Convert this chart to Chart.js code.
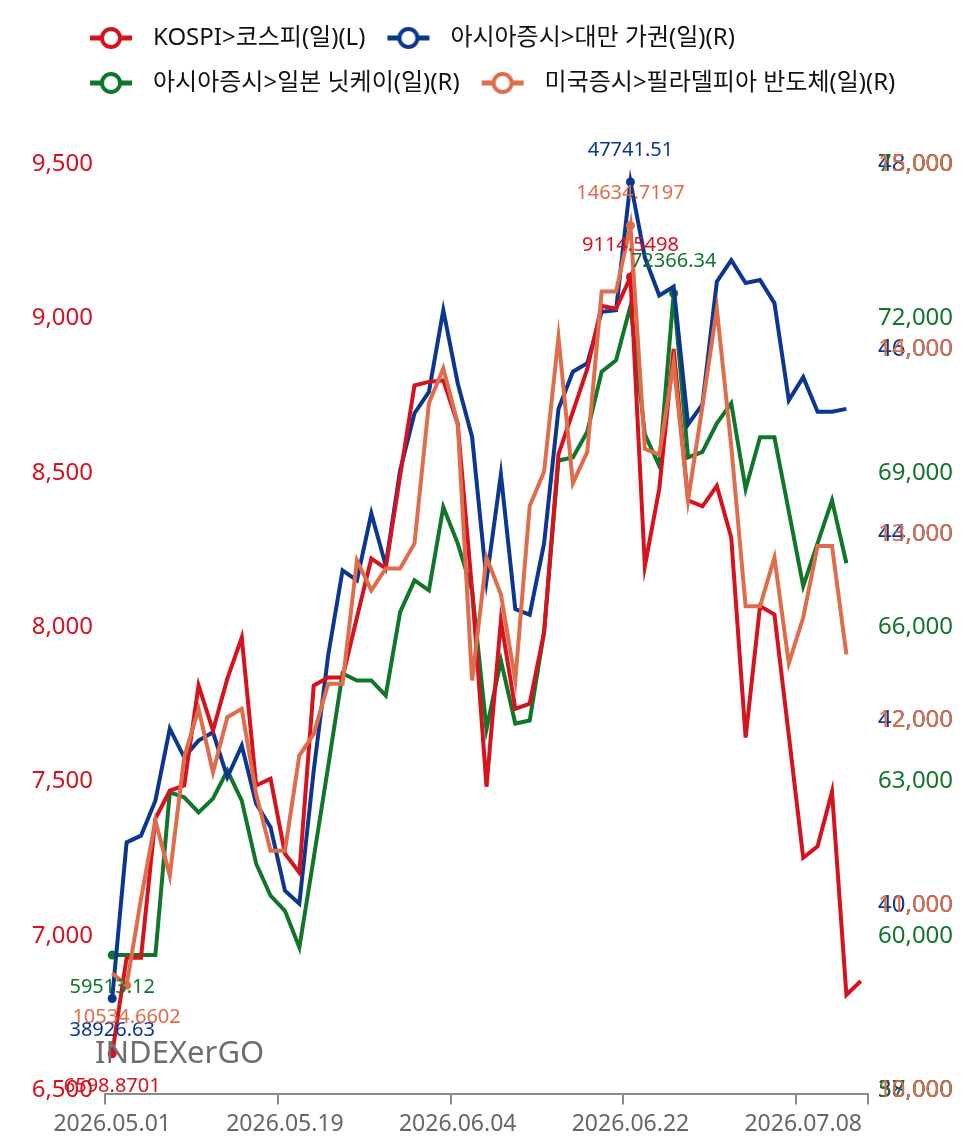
<!DOCTYPE html>
<html>
<head>
<meta charset="utf-8">
<script src="https://cdn.jsdelivr.net/npm/chart.js@4.4.1/dist/chart.umd.min.js"></script>
<style>
  html, body { margin: 0; padding: 0; background: #fff; }
</style>
</head>
<body>
<canvas id="chart" width="977" height="1141"></canvas>
<script>
const dateLabels = [
  "2026.05.01","2026.05.04","2026.05.05","2026.05.06","2026.05.07","2026.05.08",
  "2026.05.11","2026.05.12","2026.05.13","2026.05.14","2026.05.15",
  "2026.05.18","2026.05.19","2026.05.20","2026.05.21","2026.05.22",
  "2026.05.25","2026.05.26","2026.05.27","2026.05.28","2026.05.29",
  "2026.06.01","2026.06.02","2026.06.03","2026.06.04","2026.06.05",
  "2026.06.08","2026.06.09","2026.06.10","2026.06.11","2026.06.12",
  "2026.06.15","2026.06.16","2026.06.17","2026.06.18","2026.06.19",
  "2026.06.22","2026.06.23","2026.06.24","2026.06.25","2026.06.26",
  "2026.06.29","2026.06.30","2026.07.01","2026.07.02","2026.07.03",
  "2026.07.06","2026.07.07","2026.07.08","2026.07.09","2026.07.10",
  "2026.07.13","2026.07.14"
];

const kospi = [6598.8701,6910,6910,7361,7451,7468,7792,7646,7814,7947,7468,7490,7247,7186,7792,7818,7818,8012,8203,8171,
  8471,8764,8775,8780,8640,8100,7464,8002,7716,7733,7964,8540,8678,8817,9021,9012,9114.5498,8178,8428,8882,
  8391,8372,8438,8271,7623,8049,8022,7630,7234,7271,7448,6790,6835];

const taiwan = [38926.63,40613,40685,41063,41841,41531,41711,41801,41315,41657,41031,40775,40091,39950,41390,42630,43548,43440,44164,43602,
  44629,45245,45475,46358,45569,44989,43440,44586,43131,43070,43839,45291,45693,45784,46340,46358,47741.51,46927,46516,46611,
  45124,45341,46665,46898,46650,46683,46434,45385,45634,45261,45261,45292,null];

const nikkei = [59513.12,59513.12,59513.12,59513.12,62675,62578,62286,62553,63097,62514,61288,60666,60374,59661,61404,63175,64984,64848,64848,64556,
  66176,66793,66598,68218,67512,66598,63904,65236,64011,64070,65793,69124,69182,69680,70847,71070,72125,69632,69016,72366.34,
  69182,69290,69846,70235,68570,69574,69574,68135,66682,67515,68348,67127,null];

const sox = [10600,10534.6602,11000,11424,11126,11765,12027,11685,11982,12027,11568,11261,11261,11775,11892,12162,12162,12828,12666,12785,
  12785,12920,13676,13865,13568,12180,12844,12645,12180,13122,13306,14033,13245,13414,14279,14279,14634.7197,13430,13399,13893,
  13152,13661,14186,13446,12581,12581,12844,12273,12520,12906,12906,12320,null];

const seriesNames = ["KOSPI>코스피(일)(L)", "아시아증시>대만 가권(일)(R)", "아시아증시>일본 닛케이(일)(R)", "미국증시>필라델피아 반도체(일)(R)"];
const seriesColors = ["#d5121e", "#0c3791", "#11762a", "#df6d4b"];
const tickEvery = 12;

Chart.defaults.font.family = '"Noto Sans", "Noto Sans CJK KR", sans-serif';

function extremeIdx(arr) {
  let lo = -1, hi = -1;
  arr.forEach((v, i) => {
    if (v === null) return;
    if (lo < 0 || v < arr[lo]) lo = i;
    if (hi < 0 || v > arr[hi]) hi = i;
  });
  return [lo, hi];
}

function marker(color) {
  const c = document.createElement('canvas');
  c.width = 52; c.height = 26;
  const g = c.getContext('2d');
  g.strokeStyle = color;
  g.lineWidth = 5;
  g.beginPath(); g.moveTo(1, 13); g.lineTo(43, 13); g.stroke();
  g.beginPath(); g.arc(22, 13, 9, 0, Math.PI * 2);
  g.fillStyle = '#fff'; g.fill();
  g.lineWidth = 4; g.stroke();
  return c;
}
const markers = seriesColors.map(marker);

function lineSet(i, data, axis, order) {
  const [lo, hi] = extremeIdx(data);
  return {
    label: seriesNames[i],
    data: data,
    yAxisID: axis,
    order: order,
    borderColor: seriesColors[i],
    backgroundColor: seriesColors[i],
    pointBackgroundColor: seriesColors[i],
    borderWidth: 4,
    tension: 0,
    fill: false,
    pointRadius: c => (c.dataIndex === lo || c.dataIndex === hi) ? 4.5 : 0,
    pointBorderWidth: 0,
    pointHoverRadius: 0
  };
}

// min / max labels and the watermark
const extremes = {
  id: 'extremes',
  afterDatasetsDraw(chart) {
    const ctx = chart.ctx;
    ctx.save();
    ctx.font = '20px "Noto Sans"';
    ctx.textAlign = 'center';
    ctx.textBaseline = 'middle';
    chart.data.datasets.forEach((ds, di) => {
      const meta = chart.getDatasetMeta(di);
      const [lo, hi] = extremeIdx(ds.data);
      ctx.fillStyle = ds.borderColor;
      [[hi, -32], [lo, 32]].forEach(([i, dy]) => {
        const p = meta.data[i];
        ctx.fillText(String(ds.data[i]), p.x, p.y + dy);
      });
    });
    ctx.font = '31px "Noto Sans"';
    ctx.fillStyle = '#6e6e6e';
    ctx.textAlign = 'left';
    ctx.fillText('INDEXerGO', chart.chartArea.left - 10, chart.chartArea.bottom - 30);
    ctx.restore();
  }
};

// room under the legend, overlapping right axes, x axis a little lower
const layoutTweaks = {
  id: 'layoutTweaks',
  beforeLayout(chart) {
    const lg = chart.legend;
    if (lg && !lg._gap) {
      const fit = lg.fit;
      lg.fit = function () { fit.call(this); this.height += 53; };
      lg._gap = true;
    }
  },
  afterLayout(chart) {
    const x = chart.scales.x;
    x.top += 10;
    x.bottom += 10;
    Object.values(chart.scales).forEach(s => {
      s._computeLabelArea = () => undefined;
      if (s.axis === 'y') {
        const items = s._computeLabelItems;
        s._computeLabelItems = function (area) {
          const out = items.call(this, area);
          out.forEach(it => { if (it.options && it.options.translation) it.options.translation[1] += 6; });
          return out;
        };
      }
    });
  }
};

const tickFont = { size: 24 };
const yGrid = { display: false, drawTicks: false };

new Chart(document.getElementById('chart'), {
  type: 'line',
  data: {
    labels: dateLabels,
    datasets: [
      lineSet(0, kospi, 'yL', 1),
      lineSet(1, taiwan, 'yB', 2),
      lineSet(2, nikkei, 'yG', 3),
      lineSet(3, sox, 'yO', 0)
    ]
  },
  options: {
    responsive: false,
    animation: false,
    layout: { padding: { left: 68, right: 10, top: 5, bottom: 7 } },
    plugins: {
      tooltip: { enabled: false },
      legend: {
        position: 'top',
        align: 'start',
        labels: {
          usePointStyle: true,
          pointStyleWidth: 52,
          padding: 21,
          color: '#111',
          font: { size: 24 },
          sort: (a, b) => a.datasetIndex - b.datasetIndex,
          generateLabels: chart => Chart.defaults.plugins.legend.labels.generateLabels(chart)
            .map(l => Object.assign(l, { pointStyle: markers[l.datasetIndex] }))
        }
      }
    },
    scales: {
      x: {
        type: 'category',
        offset: true,
        grid: {
          offset: true,
          drawOnChartArea: false,
          drawTicks: true,
          tickLength: 10,
          lineWidth: 2,
          color: c => (c.tick && c.index % tickEvery !== 0) ? 'rgba(0,0,0,0)' : '#8a8a8a'
        },
        border: { display: true, color: '#8a8a8a', width: 2 },
        ticks: {
          autoSkip: false,
          maxRotation: 0,
          minRotation: 0,
          padding: 6,
          color: '#666',
          font: { size: 23 },
          callback: (v, i) => i % tickEvery === 0 ? dateLabels[i] : ''
        }
      },
      yL: {
        position: 'left',
        min: 6500, max: 9500,
        ticks: { stepSize: 500, color: seriesColors[0], padding: 12, font: tickFont },
        grid: yGrid,
        border: { display: false },
        afterFit: s => { s.width = 37; }
      },
      yB: {
        position: 'right', weight: 0,
        min: 38000, max: 48000,
        ticks: { stepSize: 2000, color: seriesColors[1], padding: 10, font: tickFont },
        grid: yGrid,
        border: { display: false },
        afterFit: s => { s.width = 0; }
      },
      yG: {
        position: 'right', weight: 0,
        min: 57000, max: 75000,
        ticks: { stepSize: 3000, color: seriesColors[2], padding: 10, font: tickFont },
        grid: yGrid,
        border: { display: false },
        afterFit: s => { s.width = 0; }
      },
      yO: {
        position: 'right', weight: 1,
        min: 10000, max: 15000,
        ticks: { stepSize: 1000, color: seriesColors[3], padding: 10, font: tickFont },
        grid: yGrid,
        border: { display: false },
        afterFit: s => { s.width = 99; }
      }
    }
  },
  plugins: [extremes, layoutTweaks]
});
</script>
</body>
</html>
